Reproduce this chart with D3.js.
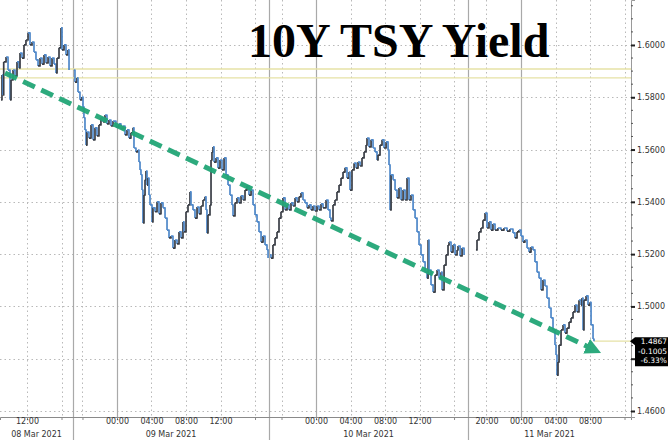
<!DOCTYPE html>
<html><head><meta charset="utf-8">
<script src="https://cdn.jsdelivr.net/npm/d3@7"></script>
<style>html,body{margin:0;padding:0;background:#fff;}svg{display:block}</style>
</head><body><svg id="c" width="668" height="440"></svg>
<script>
const title = "10Y TSY Yield";
// time = hours since 08 Mar 2021 00:00 ; trading sessions shown on the axis
const sessions = [[8.87,17.33],[18.9,41.62],[42.55,65.62],[65.86,84.75]];
const session1 = [[8.99,1.5790],[9.10,1.5885],[9.20,1.5809],[9.30,1.5935],[9.57,1.5954],[9.80,1.5904],[10.03,1.5790],[10.15,1.5866],[10.38,1.5904],[10.61,1.5882],[10.84,1.5935],[11.07,1.5912],[11.19,1.5969],[11.42,1.5950],[11.65,1.6000],[11.88,1.6019],[12.12,1.6046],[12.35,1.6000],[12.58,1.6011],[12.81,1.5973],[13.04,1.5943],[13.28,1.5920],[13.51,1.5950],[13.74,1.5927],[13.97,1.5962],[14.20,1.5931],[14.44,1.5954],[14.67,1.5920],[14.90,1.5950],[15.13,1.5927],[15.36,1.5893],[15.48,1.5950],[15.71,1.5989],[15.94,1.6065],[16.06,1.5981],[16.29,1.6000],[16.52,1.5962],[16.75,1.5981],[16.87,1.5904]];
const session2 = [[19.01,1.5904],[19.13,1.5858],[19.36,1.5874],[19.48,1.5820],[19.71,1.5790],[19.94,1.5801],[20.06,1.5763],[20.17,1.5721],[20.29,1.5675],[20.41,1.5617],[20.52,1.5667],[20.75,1.5644],[20.99,1.5694],[21.22,1.5637],[21.45,1.5683],[21.68,1.5652],[21.91,1.5694],[22.14,1.5721],[22.38,1.5706],[22.61,1.5732],[22.84,1.5698],[23.07,1.5713],[23.30,1.5690],[23.54,1.5709],[23.88,1.5686],[24.23,1.5698],[24.46,1.5679],[24.70,1.5690],[24.93,1.5656],[25.16,1.5675],[25.39,1.5644],[25.62,1.5664],[25.86,1.5683],[25.97,1.5606],[26.20,1.5591],[26.43,1.5598],[26.55,1.5552],[26.67,1.5522],[26.78,1.5503],[26.90,1.5445],[27.01,1.5319],[27.13,1.5426],[27.25,1.5484],[27.36,1.5518],[27.48,1.5464],[27.59,1.5491],[27.71,1.5426],[27.83,1.5388],[28.06,1.5323],[28.17,1.5377],[28.41,1.5362],[28.64,1.5400],[28.87,1.5354],[29.10,1.5396],[29.33,1.5377],[29.57,1.5338],[29.80,1.5292],[30.03,1.5262],[30.26,1.5269],[30.49,1.5223],[30.72,1.5254],[30.96,1.5239],[31.19,1.5285],[31.42,1.5262],[31.65,1.5323],[31.77,1.5285],[32.00,1.5362],[32.23,1.5388],[32.46,1.5438],[32.58,1.5388],[32.81,1.5369],[33.04,1.5338],[33.28,1.5380],[33.51,1.5354],[33.74,1.5384],[33.97,1.5407],[34.20,1.5419],[34.32,1.5369],[34.43,1.5281],[34.55,1.5350],[34.78,1.5388],[34.90,1.5560],[35.01,1.5591],[35.13,1.5610],[35.25,1.5552],[35.48,1.5568],[35.71,1.5529],[35.94,1.5560],[36.17,1.5522],[36.41,1.5568],[36.64,1.5503],[36.87,1.5464],[37.10,1.5426],[37.33,1.5388],[37.45,1.5346],[37.68,1.5396],[37.91,1.5415],[38.14,1.5396],[38.38,1.5423],[38.61,1.5407],[38.84,1.5445],[39.07,1.5461],[39.30,1.5426],[39.54,1.5445],[39.77,1.5388],[40.00,1.5350],[40.23,1.5323],[40.46,1.5285],[40.70,1.5246],[40.93,1.5269],[41.16,1.5235],[41.39,1.5216],[41.51,1.5185]];
const session3 = [[42.67,1.5197],[42.78,1.5185],[43.01,1.5235],[43.25,1.5262],[43.48,1.5285],[43.71,1.5338],[43.94,1.5362],[44.17,1.5415],[44.41,1.5369],[44.64,1.5388],[44.87,1.5369],[45.10,1.5396],[45.33,1.5384],[45.57,1.5415],[45.80,1.5400],[46.03,1.5419],[46.26,1.5434],[46.49,1.5407],[46.72,1.5396],[46.96,1.5377],[47.19,1.5388],[47.42,1.5369],[47.65,1.5384],[47.88,1.5365],[48.12,1.5384],[48.35,1.5369],[48.58,1.5392],[48.81,1.5377],[49.16,1.5407],[49.39,1.5369],[49.62,1.5338],[49.74,1.5327],[49.97,1.5388],[50.20,1.5407],[50.43,1.5438],[50.67,1.5464],[50.90,1.5491],[51.13,1.5514],[51.36,1.5530],[51.59,1.5491],[51.83,1.5514],[51.94,1.5445],[52.17,1.5522],[52.41,1.5548],[52.64,1.5529],[52.87,1.5552],[53.10,1.5537],[53.33,1.5568],[53.57,1.5591],[53.80,1.5617],[53.91,1.5644],[54.14,1.5610],[54.38,1.5637],[54.61,1.5606],[54.84,1.5591],[55.07,1.5560],[55.19,1.5579],[55.42,1.5617],[55.65,1.5637],[55.88,1.5606],[56.12,1.5629],[56.35,1.5598],[56.46,1.5541],[56.58,1.5369],[56.70,1.5503],[56.93,1.5484],[57.16,1.5445],[57.39,1.5415],[57.62,1.5453],[57.86,1.5407],[58.09,1.5445],[58.32,1.5407],[58.55,1.5491],[58.78,1.5407],[59.01,1.5426],[59.25,1.5369],[59.48,1.5338],[59.71,1.5285],[59.94,1.5235],[60.17,1.5197],[60.41,1.5170],[60.64,1.5131],[60.87,1.5108],[60.99,1.5254],[61.10,1.5139],[61.33,1.5082],[61.57,1.5055],[61.80,1.5120],[62.03,1.5139],[62.26,1.5108],[62.49,1.5131],[62.61,1.5063],[62.84,1.5158],[63.07,1.5197],[63.30,1.5235],[63.42,1.5246],[63.65,1.5208],[63.88,1.5235],[64.12,1.5197],[64.35,1.5216],[64.46,1.5231],[64.70,1.5193],[64.93,1.5223],[65.16,1.5197]];
const session4 = [[66.78,1.5216],[66.90,1.5254],[67.13,1.5285],[67.36,1.5300],[67.59,1.5330],[67.83,1.5357],[68.06,1.5300],[68.29,1.5323],[68.52,1.5292],[68.75,1.5315],[68.99,1.5292],[69.33,1.5300],[69.68,1.5292],[70.03,1.5300],[70.38,1.5288],[70.72,1.5296],[71.07,1.5281],[71.30,1.5262],[71.54,1.5285],[71.77,1.5292],[72.00,1.5269],[72.23,1.5246],[72.46,1.5254],[72.70,1.5223],[72.93,1.5208],[73.16,1.5227],[73.39,1.5216],[73.62,1.5170],[73.86,1.5131],[74.09,1.5108],[74.32,1.5063],[74.55,1.5101],[74.78,1.5078],[75.01,1.5032],[75.25,1.4994],[75.48,1.4956],[75.71,1.4910],[75.94,1.4852],[76.06,1.4814],[76.17,1.4737],[76.29,1.4787],[76.41,1.4852],[76.64,1.4910],[76.87,1.4929],[77.10,1.4898],[77.33,1.4917],[77.57,1.4940],[77.80,1.4956],[78.03,1.4979],[78.26,1.5005],[78.49,1.4979],[78.72,1.5024],[78.96,1.5005],[79.07,1.5032],[79.19,1.4910],[79.30,1.5024],[79.54,1.5040],[79.77,1.5005],[80.00,1.5016],[80.12,1.4929],[80.35,1.4875],[80.46,1.4867]];
const yTicks = [1.46,1.48,1.50,1.52,1.54,1.56,1.58,1.60];
const xTickHours = [12,24,28,32,36,48,52,56,60,68,72,76,80];
const xTickLabels = ["12:00","00:00","04:00","08:00","12:00","00:00","04:00","08:00","12:00","20:00","00:00","04:00","08:00"];
const xMinorHours = [16,20,40,44,64,84];
const midnightHours = [24,48,72];
const dateLabels = ["08 Mar 2021","09 Mar 2021","10 Mar 2021","11 Mar 2021"];
const refLevels = [1.5908,1.5874];
const lastValue = 1.4867, netChange = "-0.1005", pctChange = "-6.33%";
const trendStart = [9.45,1.5893], trendEnd = [81.28,1.4822];

const W=668,H=440, plotR=631, plotB=417;
const svg=d3.select("#c");

// piecewise x scale: sessions laid end to end
const totalH=d3.sum(sessions,s=>s[1]-s[0]);
const k=plotR/totalH;
let acc=0; const dom=[],rng=[];
sessions.forEach(s=>{dom.push(s[0],s[1]);rng.push(acc,acc+(s[1]-s[0])*k);acc+=(s[1]-s[0])*k;});
const x=d3.scaleLinear().domain(dom).range(rng);
const y=d3.scaleLinear().domain([1.4577,1.6172]).range([plotB,0]);

const grid="#b9b9b9";
svg.append("g").selectAll("line").data(yTicks).join("line")
 .attr("x1",0).attr("x2",plotR).attr("y1",d=>Math.round(y(d))+0.5).attr("y2",d=>Math.round(y(d))+0.5)
 .attr("stroke",grid).attr("stroke-dasharray","1.5,3");
svg.append("g").selectAll("line").data(xTickHours.concat(xMinorHours).filter(h=>!midnightHours.includes(h))).join("line")
 .attr("x1",d=>Math.round(x(d))+0.5).attr("x2",d=>Math.round(x(d))+0.5).attr("y1",0).attr("y2",plotB)
 .attr("stroke",grid).attr("stroke-dasharray","1.5,3");
svg.append("g").selectAll("line").data(midnightHours).join("line")
 .attr("x1",d=>Math.round(x(d))+0.5).attr("x2",d=>Math.round(x(d))+0.5).attr("y1",0).attr("y2",plotB)
 .attr("stroke","#a9a9a9").attr("stroke-width",1.2);
svg.append("g").selectAll("line").data(sessions.slice(1)).join("line")
 .attr("x1",d=>Math.round(x(d[0]))+0.5).attr("x2",d=>Math.round(x(d[0]))+0.5).attr("y1",0).attr("y2",H)
 .attr("stroke","#a9a9a9").attr("stroke-width",1.2);

svg.append("g").selectAll("line").data(refLevels).join("line")
 .attr("x1",0).attr("x2",plotR).attr("y1",d=>y(d)).attr("y2",d=>y(d))
 .attr("stroke","#e6e2a6").attr("stroke-width",1.3);
svg.append("line").attr("x1",x(session4[session4.length-1][0])).attr("x2",plotR)
 .attr("y1",y(lastValue)).attr("y2",y(lastValue)).attr("stroke","#e6e2a6").attr("stroke-width",1.3);

svg.append("text").text(title).attr("x",248).attr("y",57)
 .attr("font-family","'Liberation Serif','Times New Roman',serif").attr("font-weight","bold")
 .attr("font-size",48).attr("fill","#000");

const lineG=svg.append("g").attr("fill","none").attr("stroke-width",1.7).attr("stroke-linejoin","round");
[session1,session2,session3,session4].forEach(s=>{
  const segs=d3.pairs(s);
  lineG.selectAll(null).data(segs).join("path")
   .attr("d",d=>d3.line().x(p=>x(p[0])).y(p=>y(p[1])).curve(d3.curveStepAfter)(d))
   .attr("stroke",d=>d[1][1]<d[0][1]?"#4f88c9":"#3a3e46");
});

const green="#22a677";
svg.append("defs").append("marker").attr("id","ah").attr("markerUnits","userSpaceOnUse")
 .attr("markerWidth",18).attr("markerHeight",16).attr("refX",16).attr("refY",8).attr("orient","auto")
 .append("path").attr("d","M0,0 L16,8 L0,16 Z").attr("fill",green);
svg.append("path").datum([trendStart,trendEnd])
 .attr("d",d3.line().x(p=>x(p[0])).y(p=>y(p[1])))
 .attr("stroke",green).attr("stroke-width",5).attr("stroke-dasharray","13,7").attr("fill","none")
 .attr("marker-end","url(#ah)").attr("opacity",0.95);

const xAxis=d3.axisBottom(x).tickValues(xTickHours.concat(xMinorHours).sort((a,b)=>a-b))
 .tickSize(3).tickFormat(h=>{const i=xTickHours.indexOf(h);return i<0?"":xTickLabels[i];});
const gx=svg.append("g").attr("transform",`translate(0,${plotB})`).call(xAxis);
gx.select(".domain").attr("stroke","#8a8a8a");
gx.selectAll(".tick line").attr("stroke","#8a8a8a");
gx.selectAll("text").attr("font-family","'DejaVu Sans',sans-serif").attr("font-size",8).attr("fill","#333").attr("dy","0.55em").attr("y",3);

svg.append("g").selectAll("text").data(sessions).join("text")
 .text((d,i)=>dateLabels[i]).attr("x",d=>(x(d[0])+x(d[1]))/2).attr("y",437)
 .attr("text-anchor","middle").attr("font-family","'DejaVu Sans',sans-serif").attr("font-size",8).attr("fill","#333");

// right axis; the label under the last-price box is hidden as in the reference
const ly=y(lastValue);
const yAxis=d3.axisRight(y).tickValues(yTicks).tickSize(4)
 .tickFormat(d=>Math.abs(y(d)-ly)<30&&y(d)>ly?"":d3.format(".4f")(d));
const gy=svg.append("g").attr("transform",`translate(${plotR},0)`).call(yAxis);
gy.select(".domain").attr("stroke","#9a9a9a");
gy.selectAll(".tick line").attr("stroke","#222").attr("stroke-width",2);
gy.selectAll("text").attr("font-family","'DejaVu Sans',sans-serif").attr("font-size",8).attr("fill","#333").attr("x",6);
const minor=d3.range(1.46,1.6151,0.005).filter(v=>!yTicks.some(t=>Math.abs(t-v)<1e-6));
svg.append("g").selectAll("line").data(minor).join("line")
 .attr("x1",plotR).attr("x2",plotR+2).attr("y1",d=>y(d)).attr("y2",d=>y(d)).attr("stroke","#555");

svg.append("path").attr("d",`M${plotR-1},${ly} L${plotR+4},${ly-4} L${W},${ly-4} L${W},${ly+25} L${plotR+4},${ly+25} L${plotR+4},${ly+4} Z`).attr("fill","#000");
svg.append("g").selectAll("text").data([d3.format(".4f")(lastValue),netChange,pctChange]).join("text")
 .text(d=>d).attr("x",W-1).attr("y",(d,i)=>ly+3+i*9.5).attr("text-anchor","end")
 .attr("font-family","'DejaVu Sans',sans-serif").attr("font-size",7.5).attr("fill","#fff");
</script></body></html>
